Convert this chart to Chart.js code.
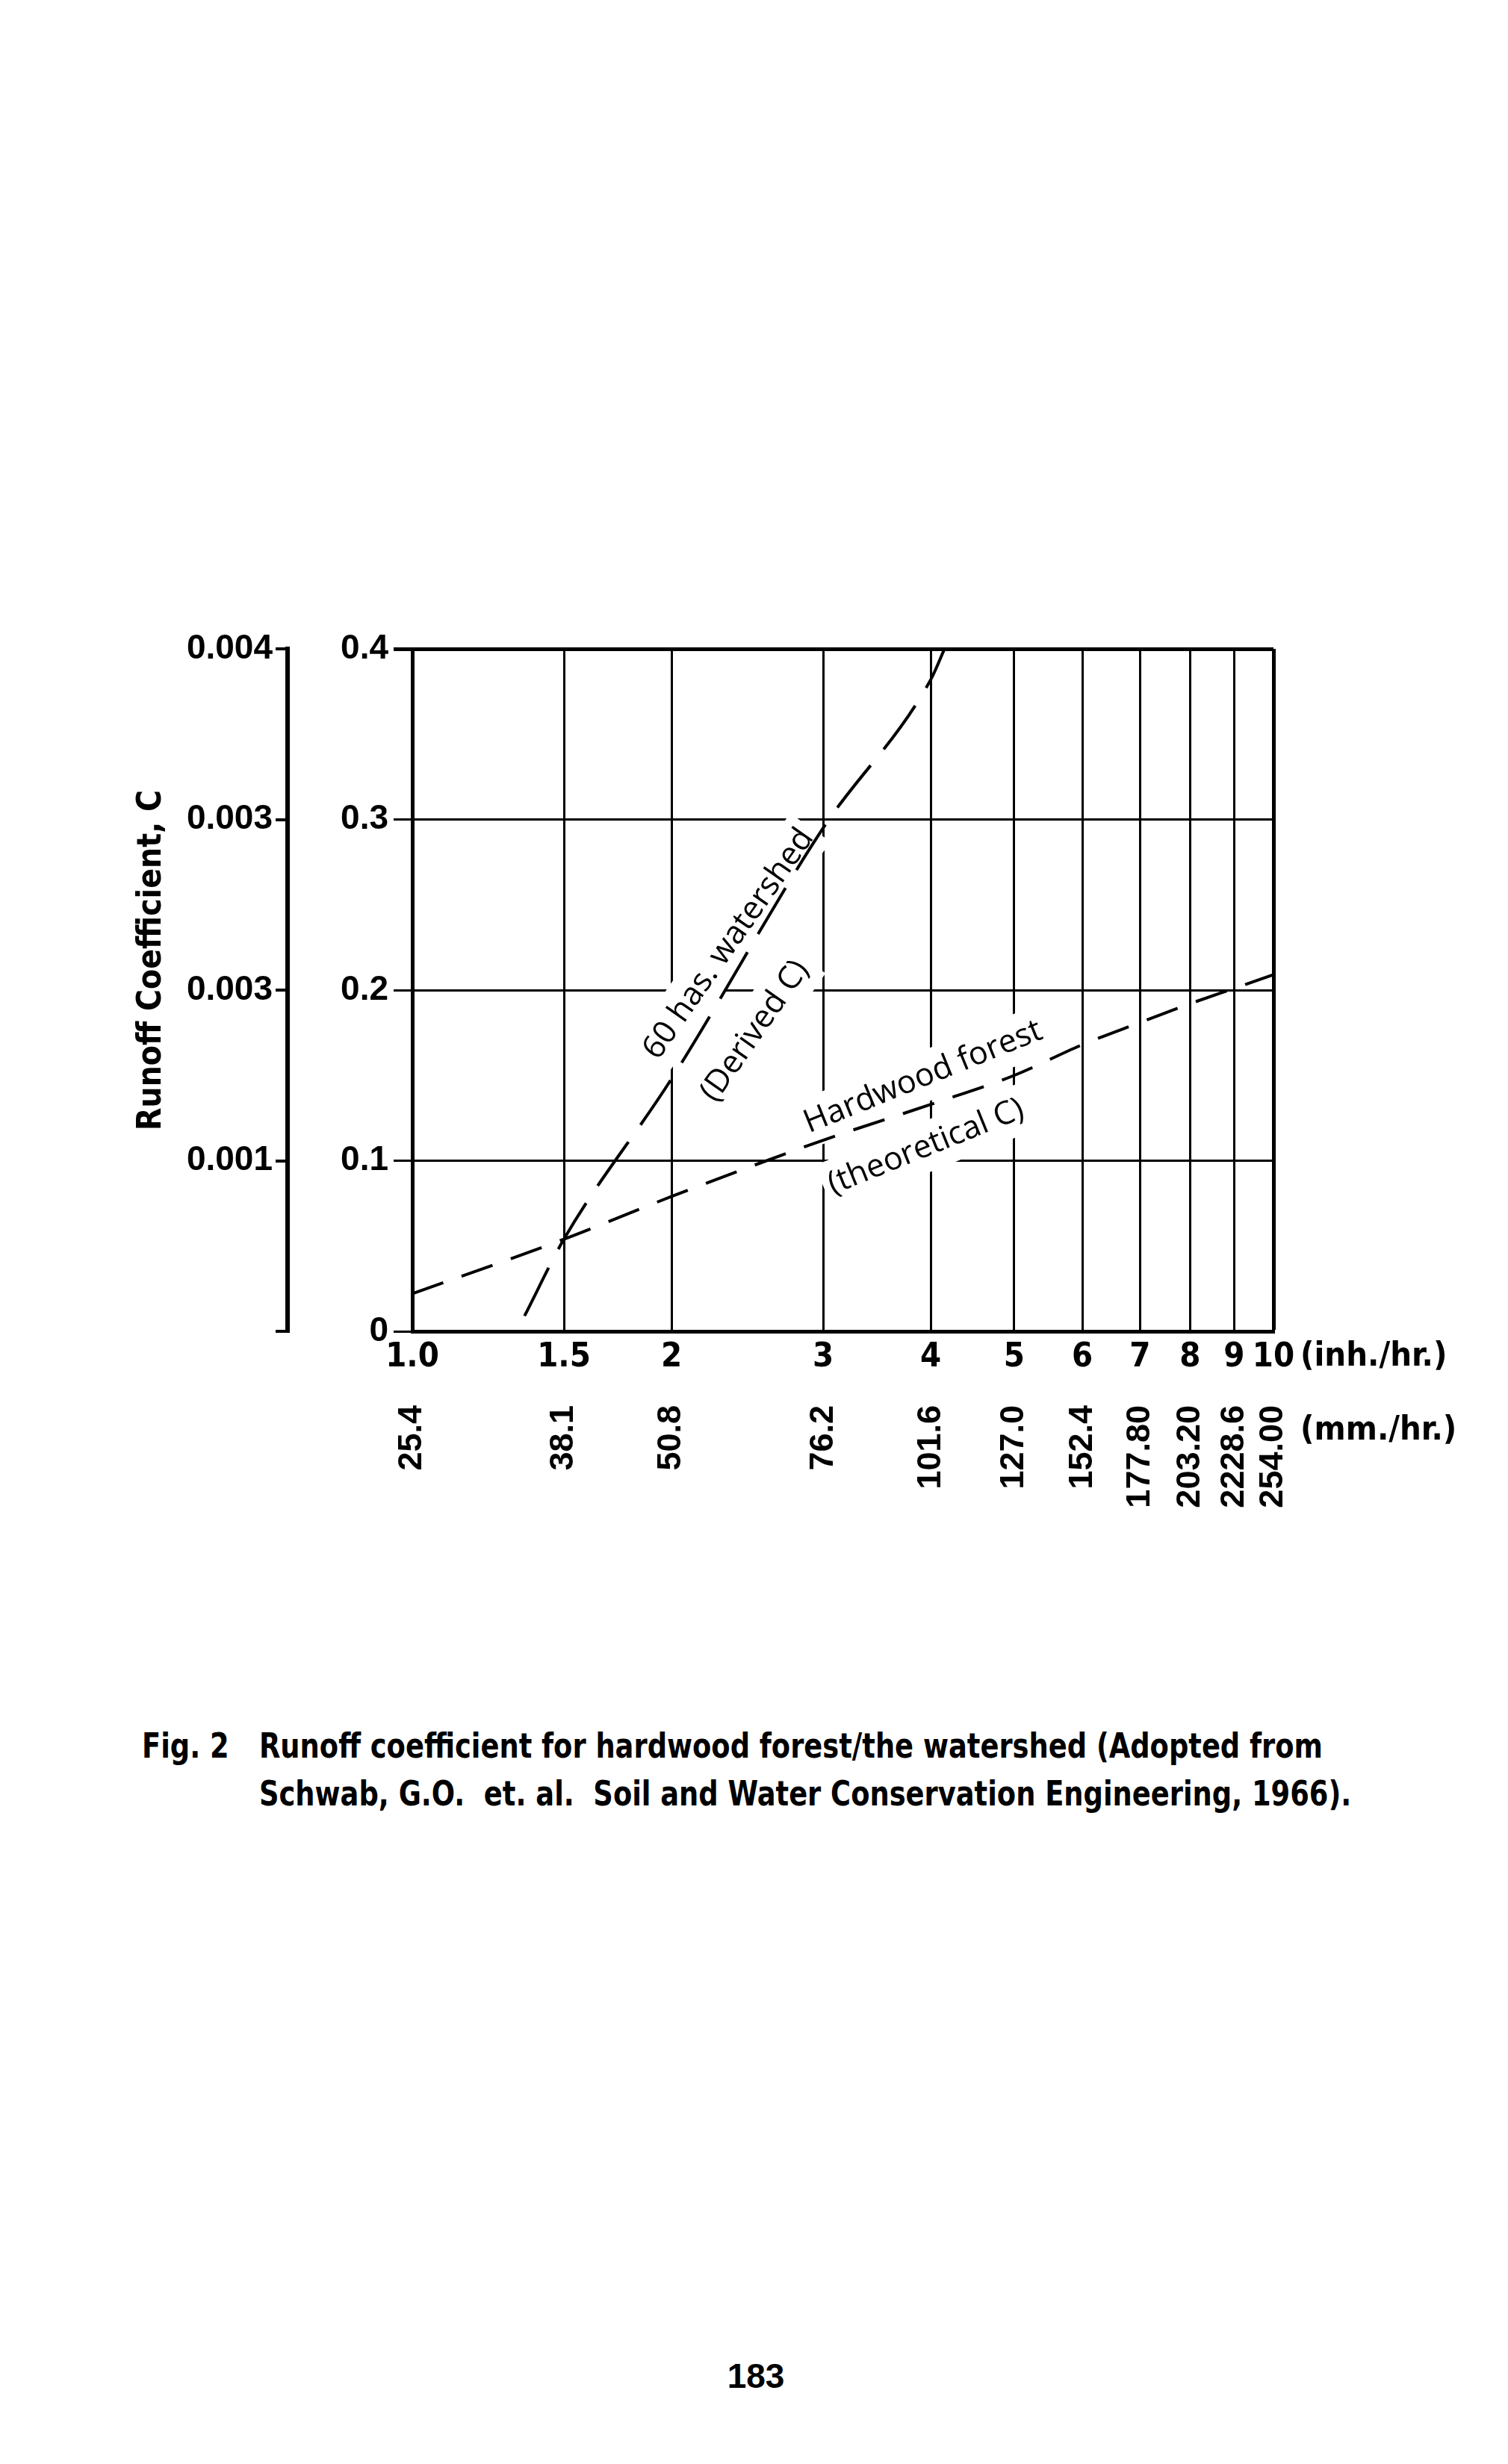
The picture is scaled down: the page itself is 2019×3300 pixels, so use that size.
<!DOCTYPE html>
<html>
<head>
<meta charset="utf-8">
<title>Runoff coefficient</title>
<script src="https://cdn.jsdelivr.net/npm/chart.js@4.4.1/dist/chart.umd.min.js"></script>
<style>
    html, body { margin: 0; padding: 0; background: #fff; }
    body { width: 2019px; height: 3300px; position: relative; overflow: hidden; }
    #wrap { position: absolute; left: 0; top: 740px; width: 2019px; height: 1420px; }
    .cap {
        position: absolute;
        font-family: 'Liberation Sans Narrow', 'DejaVu Sans Condensed', sans-serif;
        font-weight: bold;
        font-size: 46px;
        line-height: 64px;
        color: #000;
        white-space: nowrap;
        transform: scaleX(0.89);
        transform-origin: left top;
    }
    #pageNo {
        position: absolute; left: 0; width: 2024px; top: 3155px;
        text-align: center; font: bold 46px 'Liberation Sans', sans-serif; color: #000;
    }
</style>
</head>
<body>
<div id="wrap"><canvas id="runoffChart" width="2019" height="1420"></canvas></div>
<div class="cap" style="left:190px; top:2306px;">Fig. 2</div>
<div class="cap" style="left:347px; top:2306px;">Runoff coefficient for hardwood forest/the watershed (Adopted from<br>Schwab, G.O.&nbsp; et. al.&nbsp; Soil and Water Conservation Engineering, 1966).</div>
<div id="pageNo">183</div>

<script>
// rainfall intensity ticks (log axis)
const inchTicks = [1, 1.5, 2, 3, 4, 5, 6, 7, 8, 9, 10];
const inchLabels = ['1.0', '1.5', '2', '3', '4', '5', '6', '7', '8', '9', '10'];
const mmLabels = ['25.4', '38.1', '50.8', '76.2', '101.6', '127.0', '152.4', '177.80', '203.20', '2228.6', '254.00'];

// runoff coefficient ticks
const cTicks = [0, 0.1, 0.2, 0.3, 0.4];
const cLabels = ['0', '0.1', '0.2', '0.3', '0.4'];
const cLabelsSmall = ['', '0.001', '0.003', '0.003', '0.004'];

// curves
const hardwoodX = [1, 1.5, 2, 3, 4, 5, 6, 7, 8, 9, 10];
const hardwoodC = [0.022, 0.054, 0.079, 0.112, 0.133, 0.150, 0.168, 0.181, 0.192, 0.201, 0.209];
const watershedX = [1.35, 1.5, 2, 3, 4, 4.15];
const watershedC = [0.009, 0.054, 0.148, 0.295, 0.382, 0.4];

// curve labels
const notes = [
    { text: '60 has. watershed', x: 2.33, y: 0.227, angle: -55 },
    { text: '(Derived C)', x: 2.50, y: 0.176, angle: -55 },
    { text: 'Hardwood forest', x: 3.92, y: 0.149, angle: -22 },
    { text: '(theoretical C)', x: 3.95, y: 0.108, angle: -22 }
];

const boldNarrow = "'Liberation Sans Narrow', 'DejaVu Sans Condensed', sans-serif";
const boldWide = "'Liberation Sans', Arial, sans-serif";
const noteFont = "43px 'Open Sans', sans-serif";

function toPoints(xs, ys) {
    return xs.map(function(v, i) { return { x: v, y: ys[i] }; });
}

function eachNote(chart, fn) {
    const ctx = chart.ctx;
    const xs = chart.scales.x, ys = chart.scales.y;
    notes.forEach(function(n) {
        ctx.save();
        ctx.translate(xs.getPixelForValue(n.x), ys.getPixelForValue(n.y));
        ctx.rotate(n.angle * Math.PI / 180);
        ctx.font = noteFont;
        fn(ctx, n);
        ctx.restore();
    });
}

const notesPlugin = {
    id: 'notes',
    beforeDatasetsDraw: function(chart) {
        // blank the grid behind the labels, like the original
        eachNote(chart, function(ctx, n) {
            const w = ctx.measureText(n.text).width;
            ctx.fillStyle = '#fff';
            ctx.fillRect(-w / 2 - 8, -33, w + 16, 66);
        });
    },
    afterDatasetsDraw: function(chart) {
        eachNote(chart, function(ctx, n) {
            ctx.fillStyle = '#000';
            ctx.textAlign = 'center';
            ctx.textBaseline = 'middle';
            ctx.fillText(n.text, 0, 0);
        });
    },
    afterDraw: function(chart) {
        const ctx = chart.ctx;
        const xs = chart.scales.x;
        const area = chart.chartArea;
        const x10 = xs.getPixelForValue(10);
        ctx.save();
        ctx.fillStyle = '#000';
        ctx.font = 'bold 45px ' + boldNarrow;
        ctx.textAlign = 'left';
        ctx.textBaseline = 'middle';
        ctx.fillText('(inh./hr.)', x10 + 36, xs.top + 34);
        ctx.fillText('(mm./hr.)', x10 + 36, xs.top + 133);

        // axis title beside the outer scale
        ctx.translate(chart.scales.y2.left + 54, (area.top + area.bottom) / 2 - 40);
        ctx.rotate(-Math.PI / 2);
        ctx.font = 'bold 44px ' + boldNarrow;
        ctx.textAlign = 'center';
        ctx.fillText('Runoff Coefficient, C', 0, 0);
        ctx.restore();
    }
};

document.addEventListener('DOMContentLoaded', function() {
    const ctx = document.getElementById('runoffChart');
    new Chart(ctx, {
        type: 'line',
        data: {
            datasets: [{
                label: 'Hardwood forest (theoretical C)',
                data: toPoints(hardwoodX, hardwoodC),
                borderColor: '#000',
                borderWidth: 4,
                borderDash: [44, 26],
                pointRadius: 0,
                cubicInterpolationMode: 'monotone',
                fill: false
            }, {
                label: '60 has. watershed (Derived C)',
                data: toPoints(watershedX, watershedC),
                borderColor: '#000',
                borderWidth: 4,
                borderDash: [72, 28],
                pointRadius: 0,
                cubicInterpolationMode: 'monotone',
                fill: false
            }]
        },
        options: {
            responsive: false,
            animation: false,
            layout: { padding: { left: 150, right: 314, top: 129, bottom: 52 } },
            plugins: {
                legend: { display: false },
                tooltip: { enabled: false }
            },
            scales: {
                x: {
                    type: 'logarithmic',
                    position: 'bottom',
                    min: 1,
                    max: 10,
                    afterBuildTicks: function(axis) {
                        axis.ticks = inchTicks.map(function(v) { return { value: v }; });
                    },
                    afterFit: function(axis) { axis.height = 85; },
                    grid: {
                        color: '#000',
                        lineWidth: function(c) { return c.tick && c.tick.value === 10 ? 5 : 3; },
                        drawTicks: false
                    },
                    border: { display: true, color: '#000', width: 5 },
                    ticks: {
                        autoSkip: false,
                        minRotation: 0,
                        maxRotation: 0,
                        padding: 8,
                        color: '#000',
                        font: { family: boldNarrow, weight: 'bold', size: 45, lineHeight: 1.2 },
                        callback: function(value, index) { return inchLabels[index]; }
                    }
                },
                x2: {
                    type: 'logarithmic',
                    position: 'bottom',
                    min: 1,
                    max: 10,
                    afterBuildTicks: function(axis) {
                        axis.ticks = inchTicks.map(function(v) { return { value: v }; });
                    },
                    afterFit: function(axis) { axis.height = 240; },
                    grid: { display: false, drawTicks: false },
                    border: { display: false },
                    ticks: {
                        autoSkip: false,
                        minRotation: 90,
                        maxRotation: 90,
                        padding: 14,
                        color: '#000',
                        font: { family: boldWide, weight: 'bold', size: 45, lineHeight: 1.0 },
                        callback: function(value, index) { return mmLabels[index]; }
                    }
                },
                y: {
                    type: 'linear',
                    position: 'left',
                    min: 0,
                    max: 0.4,
                    afterBuildTicks: function(axis) {
                        axis.ticks = cTicks.map(function(v) { return { value: v }; });
                    },
                    afterFit: function(axis) { axis.width = 167; },
                    grid: {
                        color: '#000',
                        lineWidth: function(c) { return c.tick && c.tick.value === 0.4 ? 5 : 3; },
                        drawTicks: true,
                        tickLength: 25
                    },
                    border: { display: true, color: '#000', width: 5 },
                    ticks: {
                        padding: 7,
                        color: '#000',
                        font: { family: boldWide, weight: 'bold', size: 46 },
                        callback: function(value, index) { return cLabels[index]; }
                    }
                },
                y2: {
                    type: 'linear',
                    position: 'left',
                    min: 0,
                    max: 0.4,
                    afterBuildTicks: function(axis) {
                        axis.ticks = cTicks.map(function(v) { return { value: v }; });
                    },
                    afterFit: function(axis) { axis.width = 235; },
                    grid: {
                        color: '#000',
                        lineWidth: 4,
                        drawOnChartArea: false,
                        drawTicks: true,
                        tickLength: 16
                    },
                    border: { display: true, color: '#000', width: 6 },
                    ticks: {
                        padding: 4,
                        color: '#000',
                        font: { family: boldWide, weight: 'bold', size: 46 },
                        callback: function(value, index) { return cLabelsSmall[index]; }
                    }
                }
            }
        },
        plugins: [notesPlugin]
    });
});
</script>
</body>
</html>
